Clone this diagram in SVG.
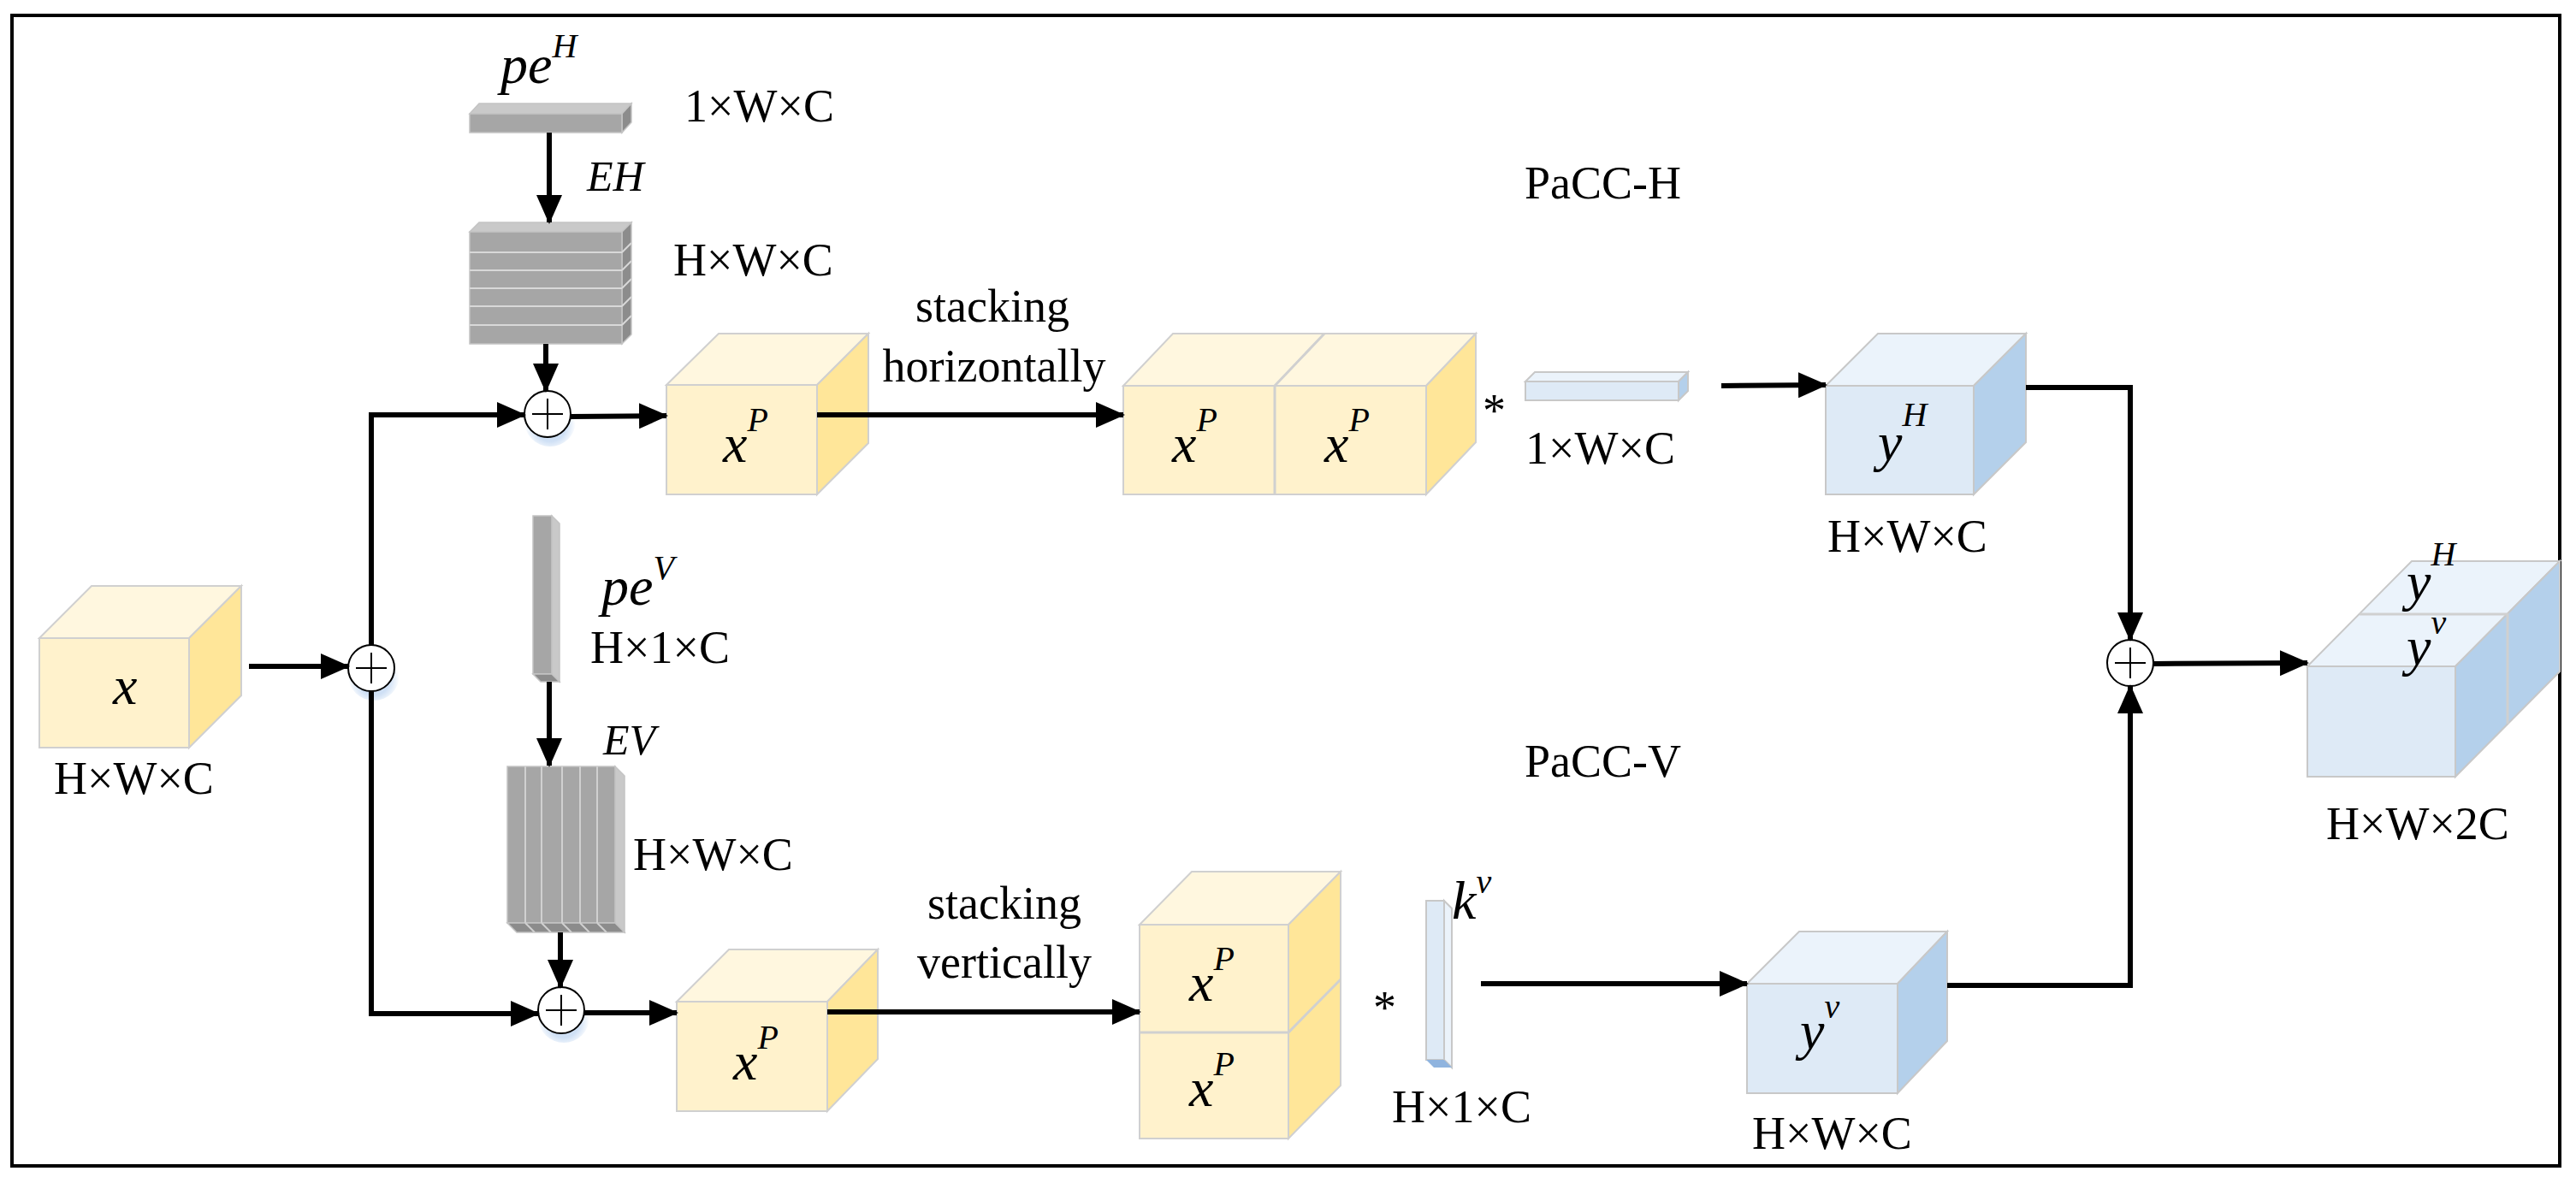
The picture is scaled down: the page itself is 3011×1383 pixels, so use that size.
<svg xmlns="http://www.w3.org/2000/svg" width="3011" height="1383" viewBox="0 0 3011 1383">
<defs>
<marker id="ah" markerUnits="userSpaceOnUse" markerWidth="34" markerHeight="30" refX="32" refY="15" orient="auto"><path d="M0,0 L34,15 L0,30 Z" fill="#000"/></marker>
<radialGradient id="glow" cx="0.5" cy="0.6" r="0.5"><stop offset="0.6" stop-color="#cfe0f5"/><stop offset="1" stop-color="#cfe0f5" stop-opacity="0"/></radialGradient>
</defs>
<style>
.t{font-family:"Liberation Serif","Times New Roman",serif;font-size:54px;fill:#000}
.m{font-family:"Liberation Serif","Times New Roman",serif;font-style:italic;font-size:64px;fill:#000}
.s{font-size:40px}
.yf{fill:#FFF2CC;stroke:#d0d0d0;stroke-width:2}
.yt{fill:#FFF7DF;stroke:#d0d0d0;stroke-width:2}
.yr{fill:#FFE699;stroke:#d0d0d0;stroke-width:2}
.bf{fill:#DEEAF6;stroke:#c8c8c8;stroke-width:2}
.bt{fill:#EBF3FB;stroke:#c8c8c8;stroke-width:2}
.br{fill:#B4D0EB;stroke:#c8c8c8;stroke-width:2}
.gf{fill:#A6A6A6;stroke:#c4c4c4;stroke-width:1.5}
.gt{fill:#C9C9C9;stroke:#c4c4c4;stroke-width:1.5}
.gr{fill:#8C8C8C;stroke:#c4c4c4;stroke-width:1.5}
.c{fill:none;stroke:#000;stroke-width:6}
.a{fill:none;stroke:#000;stroke-width:6;marker-end:url(#ah)}
.p{fill:#fff;stroke:#000;stroke-width:2}
</style>
<rect x="14" y="18" width="2978" height="1345" fill="#fff" stroke="#000" stroke-width="4"/>

<g id="peH">
<polygon class="gt" points="549,133 560,121 738,121 727,133"/>
<polygon class="gr" points="727,133 738,121 738,143 727,155"/>
<rect class="gf" x="549" y="133" width="178" height="22"/>
<text class="m" x="585" y="97">pe<tspan class="s" dy="-30">H</tspan></text>
<text class="t" x="800" y="142">1×W×C</text>
</g>
<g id="EH">
<polygon class="gt" points="549,271 560,260 738,260 727,271"/>
<polygon class="gr" points="727,271 738,260 738,391 727,402"/>
<rect class="gf" x="549" y="271" width="178" height="131"/>
<path d="M549,295H727M549,316H727M549,337H727M549,358H727M549,380H727M727,295l11,-11M727,316l11,-11M727,337l11,-11M727,358l11,-11M727,380l11,-11" stroke="#d8d8d8" stroke-width="2" fill="none"/>
<text class="m" x="686" y="223" style="font-size:50px">EH</text>
<text class="t" x="787" y="322">H×W×C</text>
</g>
<g id="peV">
<polygon class="gt" points="645,603 654,612 654,797 645,788"/>
<rect class="gf" x="623" y="603" width="22" height="185"/>
<polygon class="gr" points="623,788 645,788 654,797 632,797"/>
<text class="m" x="703" y="707">pe<tspan class="s" dy="-30">V</tspan></text>
<text class="t" x="690" y="775">H×1×C</text>
</g>
<g id="EV">
<polygon class="gt" points="719,896 730,907 730,1090 719,1079"/>
<rect class="gf" x="593" y="896" width="126" height="183"/>
<polygon class="gr" points="593,1079 719,1079 730,1090 604,1090"/>
<path d="M614,896V1079M633,896V1079M657,896V1079M678,896V1079M698,896V1079M614,1079l11,11M633,1079l11,11M657,1079l11,11M678,1079l11,11M698,1079l11,11" stroke="#d0d0d0" stroke-width="2" fill="none"/>
<text class="m" x="705" y="882" style="font-size:50px">EV</text>
<text class="t" x="740" y="1017">H×W×C</text>
</g>

<g id="x">
<polygon class="yt" points="46,746 107,685 282,685 221,746"/>
<polygon class="yr" points="221,746 282,685 282,813 221,874"/>
<rect class="yf" x="46" y="746" width="175" height="128"/>
<text class="m" x="132" y="823">x</text>
<text class="t" x="63" y="928">H×W×C</text>
</g>
<g id="xP1">
<polygon class="yt" points="779,450 840,390 1015,390 955,450"/>
<polygon class="yr" points="955,450 1015,390 1015,518 955,578"/>
<rect class="yf" x="779" y="450" width="176" height="128"/>
<text class="m" x="845" y="540">x<tspan class="s" dy="-36">P</tspan></text>
</g>
<g id="xP2">
<polygon class="yt" points="791,1171 852,1110 1026,1110 967,1171"/>
<polygon class="yr" points="967,1171 1026,1110 1026,1238 967,1299"/>
<rect class="yf" x="791" y="1171" width="176" height="128"/>
<text class="m" x="857" y="1262">x<tspan class="s" dy="-36">P</tspan></text>
</g>
<g id="xPH">
<polygon class="yt" points="1313,451 1371,390 1725,390 1667,451"/>
<polygon class="yr" points="1667,451 1725,390 1725,517 1667,578"/>
<rect class="yf" x="1313" y="451" width="354" height="127"/>
<path d="M1490,451V578M1490,451L1548,390" stroke="#d0d0d0" stroke-width="3"/>
<text class="m" x="1370" y="540">x<tspan class="s" dy="-36">P</tspan></text>
<text class="m" x="1548" y="540">x<tspan class="s" dy="-36">P</tspan></text>
<text class="t" x="1160" y="376" text-anchor="middle">stacking</text>
<text class="t" x="1162" y="446" text-anchor="middle">horizontally</text>
<text class="t" x="1782" y="232">PaCC-H</text>
</g>
<g id="xPV">
<polygon class="yt" points="1332,1081 1393,1019 1567,1019 1506,1081"/>
<polygon class="yr" points="1506,1081 1567,1019 1567,1269 1506,1331"/>
<rect class="yf" x="1332" y="1081" width="174" height="250"/>
<path d="M1332,1207H1506L1567,1145" stroke="#d0d0d0" stroke-width="3" fill="none"/>
<text class="m" x="1390" y="1170">x<tspan class="s" dy="-36">P</tspan></text>
<text class="m" x="1390" y="1293">x<tspan class="s" dy="-36">P</tspan></text>
<text class="t" x="1174" y="1074" text-anchor="middle">stacking</text>
<text class="t" x="1174" y="1143" text-anchor="middle">vertically</text>
<text class="t" x="1782" y="908">PaCC-V</text>
</g>
<g id="kH">
<text class="t" x="1733" y="498">*</text>
<polygon class="bt" points="1783,446 1794,435 1973,435 1962,446"/>
<polygon class="br" points="1962,446 1973,435 1973,457 1962,468"/>
<rect class="bf" x="1783" y="446" width="179" height="22"/>
<text class="t" x="1783" y="542">1×W×C</text>
</g>
<g id="kV">
<text class="t" x="1605" y="1196">*</text>
<polygon class="bt" points="1688,1053 1697,1062 1697,1248 1688,1239"/>
<rect class="bf" x="1667" y="1053" width="21" height="186"/>
<polygon points="1667,1239 1688,1239 1697,1248 1676,1248" fill="#8FB4DF"/>
<text class="m" x="1697" y="1074">k<tspan class="s" dy="-30">v</tspan></text>
<text class="t" x="1627" y="1312">H×1×C</text>
</g>
<g id="yH">
<polygon class="bt" points="2134,451 2195,390 2368,390 2307,451"/>
<polygon class="br" points="2307,451 2368,390 2368,517 2307,578"/>
<rect class="bf" x="2134" y="451" width="173" height="127"/>
<text class="m" x="2195" y="538">y<tspan class="s" dy="-40">H</tspan></text>
<text class="t" x="2136" y="645">H×W×C</text>
</g>
<g id="yV">
<polygon class="bt" points="2042,1150 2103,1089 2276,1089 2218,1150"/>
<polygon class="br" points="2218,1150 2276,1089 2276,1217 2218,1278"/>
<rect class="bf" x="2042" y="1150" width="176" height="128"/>
<text class="m" x="2104" y="1226">y<tspan class="s" dy="-36">v</tspan></text>
<text class="t" x="2048" y="1343">H×W×C</text>
</g>
<g id="out">
<polygon class="bt" points="2697,779 2819,656 2992,656 2870,779"/>
<polygon class="br" points="2870,779 2992,656 2992,785 2870,908"/>
<rect class="bf" x="2697" y="779" width="173" height="129"/>
<path d="M2758,718H2931V846" stroke="#d0d0d0" stroke-width="3" fill="none"/>
<text class="m" x="2813" y="701">y<tspan class="s" dy="-40">H</tspan></text>
<text class="m" x="2813" y="777">y<tspan class="s" dy="-36">v</tspan></text>
<text class="t" x="2719" y="981">H×W×2C</text>
</g>
<g id="plus">
<ellipse cx="643" cy="492" rx="30" ry="30" fill="url(#glow)"/>
<circle class="p" cx="640" cy="484" r="27"/><path d="M640,466V502M622,484H658" stroke="#000" stroke-width="2"/>
<ellipse cx="437" cy="789" rx="30" ry="30" fill="url(#glow)"/>
<circle class="p" cx="434" cy="781" r="27"/><path d="M434,763V799M416,781H452" stroke="#000" stroke-width="2"/>
<ellipse cx="659" cy="1189" rx="30" ry="30" fill="url(#glow)"/>
<circle class="p" cx="656" cy="1181" r="27"/><path d="M656,1163V1199M638,1181H674" stroke="#000" stroke-width="2"/>
<circle class="p" cx="2490" cy="775" r="27"/><path d="M2490,757V793M2472,775H2508" stroke="#000" stroke-width="2"/>
</g>
<g id="connectors">
<path class="a" d="M642,155V260"/>
<path class="a" d="M638,402V457"/>
<path class="a" d="M642,797V895"/>
<path class="a" d="M655,1090V1154"/>
<path class="a" d="M291,779H407"/>
<path class="a" d="M434,754V485H613"/>
<path class="a" d="M434,808V1185H629"/>
<path class="a" d="M667,487L779,486"/>
<path class="a" d="M683,1184H791"/>
<path class="a" d="M955,485H1313"/>
<path class="a" d="M967,1183H1332"/>
<path class="a" d="M2012,451L2134,450"/>
<path class="a" d="M1731,1150H2042"/>
<path class="a" d="M2368,453H2490V748"/>
<path class="a" d="M2276,1152H2490V802"/>
<path class="a" d="M2517,776L2697,775"/>
</g>
</svg>
